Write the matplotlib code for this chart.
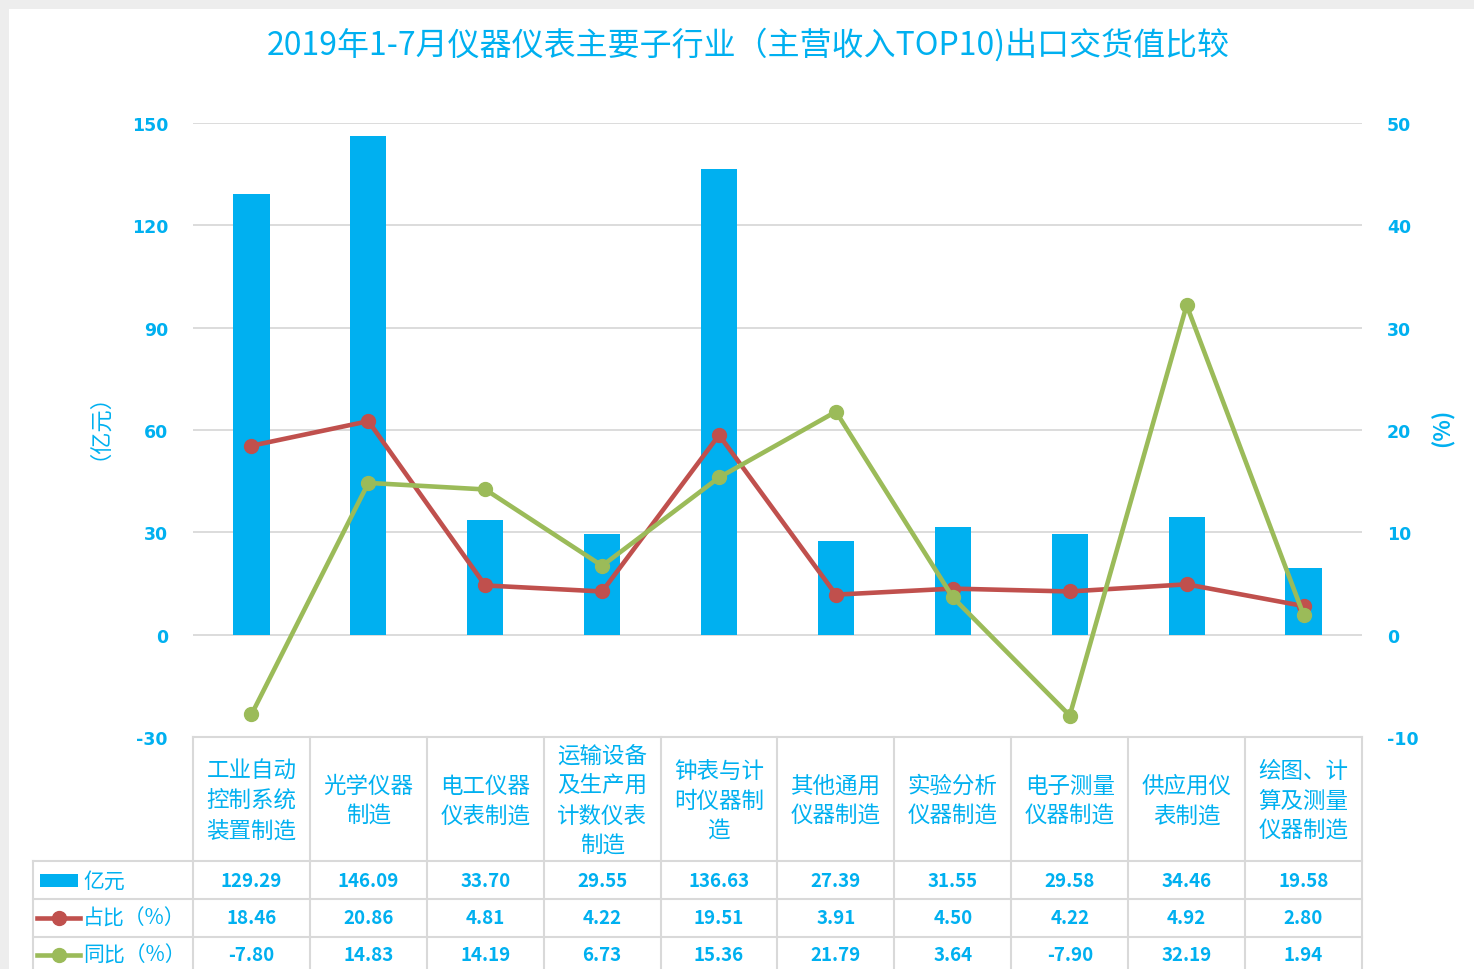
import matplotlib
matplotlib.use("Agg")
import matplotlib.pyplot as plt
from matplotlib.patches import Rectangle
from matplotlib.lines import Line2D

plt.rcParams['font.family'] = ['Noto Sans CJK SC', 'DejaVu Sans']
plt.rcParams['axes.unicode_minus'] = False

title = "2019年1-7月仪器仪表主要子行业（主营收入TOP10)出口交货值比较"
categories = ["工业自动\n控制系统\n装置制造", "光学仪器\n制造", "电工仪器\n仪表制造",
              "运输设备\n及生产用\n计数仪表\n制造", "钟表与计\n时仪器制\n造", "其他通用\n仪器制造",
              "实验分析\n仪器制造", "电子测量\n仪器制造", "供应用仪\n表制造", "绘图、计\n算及测量\n仪器制造"]
value = [129.29, 146.09, 33.70, 29.55, 136.63, 27.39, 31.55, 29.58, 34.46, 19.58]
share = [18.46, 20.86, 4.81, 4.22, 19.51, 3.91, 4.50, 4.22, 4.92, 2.80]
growth = [-7.80, 14.83, 14.19, 6.73, 15.36, 21.79, 3.64, -7.90, 32.19, 1.94]
row_labels = ["亿元", "占比（%）", "同比（%）"]

BLUE = "#00B0F0"
RED = "#C0504D"
GREEN = "#9BBB59"
GRID = "#D9D9D9"

W, H = 1474, 970


def box(x0, y0, x1, y1):
    # image pixel box -> figure fraction
    return [x0 / W, 1 - y1 / H, (x1 - x0) / W, (y1 - y0) / H]


fig = plt.figure(figsize=(W / 100, H / 100), dpi=100, facecolor="#EDEDED")
fig.patches.append(Rectangle((9 / W, 0), 1, 1 - 10 / H, transform=fig.transFigure,
                             facecolor="white", edgecolor="none", zorder=-1))

x = list(range(len(value)))

ax = fig.add_axes(box(193, 124, 1362, 738))
ax.bar(x, value, width=0.31, color=BLUE, zorder=2)
ax.set_xlim(-0.5, 9.5)
ax.set_ylim(-30, 150)
ax.set_yticks(range(-30, 151, 30))
ax.set_xticks([])
ax.grid(axis='y', color=GRID, lw=1.3)
ax.set_axisbelow(True)
for s in ax.spines.values():
    s.set_visible(False)
ax.tick_params(axis='y', length=0, pad=18, labelcolor=BLUE, labelsize=12.5)
for lbl in ax.get_yticklabels():
    lbl.set_fontweight('bold')
    lbl.set_fontfamily('DejaVu Sans')

ax2 = ax.twinx()
ax2.set_ylim(-10, 50)
ax2.set_yticks(range(-10, 51, 10))
ax2.plot(x, share, color=RED, lw=3.3, marker='o', ms=10, zorder=3)
ax2.plot(x, growth, color=GREEN, lw=3.3, marker='o', ms=10, zorder=4)
for s in ax2.spines.values():
    s.set_visible(False)
ax2.tick_params(axis='y', length=0, pad=18, labelcolor=BLUE, labelsize=12.5)
for lbl in ax2.get_yticklabels():
    lbl.set_fontweight('bold')
    lbl.set_fontfamily('DejaVu Sans')

# axis titles
fig.text(88 / W, 1 - 416 / H, "（亿元）", rotation=90, ha='center', va='center',
         color=BLUE, fontsize=16)
fig.text(1443 / W, 1 - 428 / H, "(%)", rotation=90, ha='center', va='center',
         color=BLUE, fontsize=16, weight='bold')

fig.text(748 / W, 1 - 45 / H, title, ha='center', va='center', fontsize=23,
         color=BLUE, weight='medium')

# data table below the chart
colw = 1169 / 10
xmin = -0.5 - 160 / colw
tb = fig.add_axes(box(33, 738, 1362, 970))
tb.set_xlim(xmin, 9.5)
tb.set_ylim(970, 738)
tb.axis('off')


def cx(p):
    return xmin + (p - 33) / colw


lk = dict(color=GRID, lw=1.5, clip_on=False)
tb.plot([-0.5, 9.5], [738, 738], **lk)
for yy in [862, 900, 938]:
    tb.plot([xmin, 9.5], [yy, yy], **lk)
for k in range(11):
    tb.plot([-0.5 + k, -0.5 + k], [738, 975], **lk)
tb.plot([xmin, xmin], [862, 975], **lk)

for i, c in enumerate(categories):
    tb.text(i, 801, c, ha='center', va='center', fontsize=16.2, color=BLUE,
            linespacing=1.38, multialignment='center')

rows_y = [882, 919, 956]
for vals, yy in zip([value, share, growth], rows_y):
    for i, v in enumerate(vals):
        tb.text(i, yy, f"{v:.2f}", ha='center', va='center', fontsize=13.5,
                color=BLUE, weight='bold')

tb.add_patch(Rectangle((cx(40), 875), cx(78) - cx(40), 13, facecolor=BLUE,
                       edgecolor='none', clip_on=False))
for yy, col in [(rows_y[1], RED), (rows_y[2], GREEN)]:
    tb.add_line(Line2D([cx(37), cx(80)], [yy, yy], color=col, lw=3.3, clip_on=False))
    tb.add_line(Line2D([cx(59)], [yy], color=col, marker='o', ms=10, clip_on=False))
for lab, yy in zip(row_labels, rows_y):
    tb.text(cx(83), yy, lab, ha='left', va='center', fontsize=15, color=BLUE)

fig.savefig("out.png", dpi=100, facecolor=fig.get_facecolor())
